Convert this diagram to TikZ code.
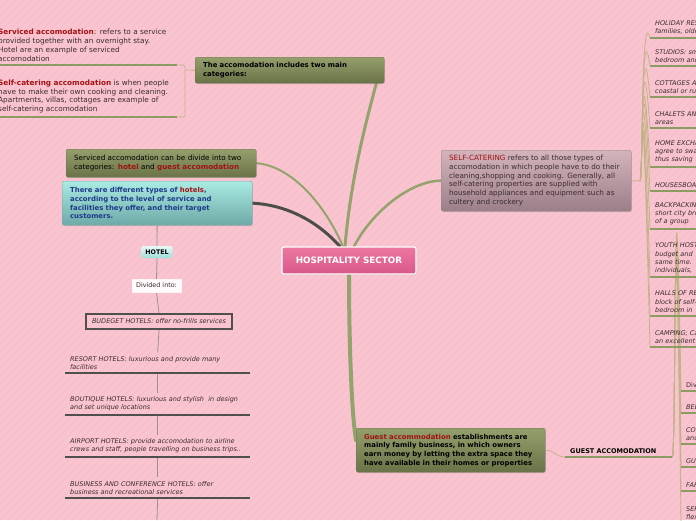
\documentclass[tikz,border=0pt]{standalone}
\usepackage{fontspec}
\setmainfont{DejaVu Sans}
\usetikzlibrary{shadows}
\definecolor{bgpink}{HTML}{F9C4D0}
\definecolor{stripe}{HTML}{F3BCC9}
\definecolor{olivetop}{HTML}{949F6D}
\definecolor{olivebot}{HTML}{6A7347}
\definecolor{oliveline}{HTML}{8C9B61}
\definecolor{branchc}{HTML}{94A36C}
\definecolor{darkbranch}{HTML}{4E4E48}
\definecolor{thinc}{HTML}{C4B388}
\definecolor{redtext}{HTML}{A31212}
\definecolor{bluetext}{HTML}{1E3A8A}
\definecolor{tealtop}{HTML}{AAEBE3}
\definecolor{tealbot}{HTML}{6EA9A7}
\definecolor{mauvetop}{HTML}{D4B4BC}
\definecolor{mauvebot}{HTML}{9B7F88}
\definecolor{centertop}{HTML}{EC77A0}
\definecolor{centerbot}{HTML}{D9588A}
\definecolor{itemtext}{HTML}{3B2B2E}
\definecolor{grayline}{HTML}{4F4F4F}
\definecolor{vlinec}{HTML}{A08E92}
\pgfdeclarelayer{bg}\pgfdeclarelayer{edges}\pgfsetlayers{bg,edges,main}
\newcommand{\boxfont}{\fontsize{7.2}{8.7}\selectfont}
\newcommand{\boldboxfont}{\fontsize{6.9}{8.7}\selectfont\bfseries}
\newcommand{\ltfont}{\fontsize{7.3}{8.8}\selectfont}
\newcommand{\itemfont}{\fontsize{6.5}{8.2}\selectfont}
\newcommand{\rd}[1]{\textcolor{redtext}{#1}}
\tikzset{
  shadowed/.style={drop shadow={opacity=0.3,shadow xshift=0.8pt,shadow yshift=-1pt}},
  box/.style={rounded corners=2pt, inner xsep=8pt, align=left, anchor=north west, font=\boxfont, shadowed},
  olivebox/.style={box, top color=olivetop, bottom color=olivebot, draw=olivebot, line width=0.3pt},
  tealbox/.style={box, top color=tealtop, bottom color=tealbot, draw=tealbot, line width=0.3pt, text=bluetext, font=\boldboxfont},
  mauvebox/.style={box, top color=mauvetop, bottom color=mauvebot, draw=mauvebot, line width=0.3pt, text=itemtext},
  centerbox/.style={rounded corners=2pt, top color=centertop, bottom color=centerbot, draw=white, line width=1.2pt, text=white, font=\fontsize{8.8}{10}\selectfont\bfseries, minimum width=134pt, minimum height=27pt, shadowed},
  uitem/.style={anchor=south west, inner xsep=5pt, inner ysep=3.5pt, align=left, font=\itemfont\itshape, text=itemtext, text width=#1},
  uol/.style={line width=2.8pt, oliveline},
  ugr/.style={line width=2.5pt, grayline},
  thinl/.style={line width=0.8pt, thinc},
  vline/.style={line width=0.8pt, vlinec},
  branch/.style={branchc, line cap=round},
}
\begin{document}
\begin{tikzpicture}[x=1pt,y=-1pt]
\useasboundingbox (0,0) rectangle (696,520);
\clip (0,0) rectangle (696,520);
\begin{pgfonlayer}{bg}
\fill[bgpink] (0,0) rectangle (696,520);
\foreach \i in {-520,-512,...,696} \draw[stripe, line width=0.4pt] (\i,520) -- (\i+520,0);
\end{pgfonlayer}

% central
\node[centerbox] (center) at (349,260.5) {HOSPITALITY SECTOR};

% top box and left texts
\node[olivebox, font=\boldboxfont, text width=173pt, minimum height=26pt] (topbox) at (195,57) {The accomodation includes two main\\categories:};
\node[anchor=south west, inner xsep=0pt, inner ysep=3.5pt, align=left, font=\ltfont, text=itemtext, text width=179pt] (lt1) at (-2,65)
  {\rd{\textbf{Serviced accomodation}}: refers to a service\\provided together with an overnight stay.\\Hotel are an example of serviced\\accomodation};
\node[anchor=south west, inner xsep=0pt, inner ysep=3.5pt, align=left, font=\ltfont, text=itemtext, text width=179pt] (lt2) at (-2,117)
  {\rd{\textbf{Self-catering accomodation}} is when people\\have to make their own cooking and cleaning.\\Apartments, villas, cottages are example of\\self-catering accomodation};
\draw[uol] (lt1.south west) -- (lt1.south east);
\draw[uol] (lt2.south west) -- (lt2.south east);
\coordinate (ltj) at (185,70);

% left boxes
\node[olivebox, text width=174pt, minimum height=28pt] (svc) at (66,149) {Serviced accomodation can be divide into two\\categories: \rd{\textbf{hotel}} and \rd{\textbf{guest accomodation}}};
\node[tealbox, text width=174pt, minimum height=44pt] (teal) at (62,181) {There are different types of \rd{hotels},\\according to the level of service and\\facilities they offer, and their target\\customers.};

% hotel chain
\node[rounded corners=2pt, top color=white!70!tealtop, bottom color=tealtop!80!tealbot, font=\fontsize{6.3}{7}\selectfont\bfseries, minimum width=31pt, minimum height=12pt, inner sep=1pt] (hotel) at (157,252) {HOTEL};
\node[fill=white!92!bgpink, draw=white!80!bgpink, font=\fontsize{6.4}{7}\selectfont, text=itemtext, minimum width=49pt, minimum height=13pt, inner sep=1pt] (divided) at (156.5,285.5) {Divided into:};
\node[draw=grayline, line width=2pt, fill=bgpink, font=\itemfont\itshape, text=itemtext, minimum width=146pt, minimum height=15pt, inner sep=1pt] (budget) at (159,321.5) {BUDEGET HOTELS: offer no-frills services};
\node[uitem=175pt] (h1) at (65,373) {RESORT HOTELS: luxurious and provide many\\facilities};
\node[uitem=175pt] (h2) at (65,415) {BOUTIQUE HOTELS: luxurious and stylish\ \ in design\\and set unique locations};
\node[uitem=175pt] (h3) at (65,457) {AIRPORT HOTELS: provide accomodation to airline\\crews and staff, people travelling on business trips..};
\node[uitem=175pt] (h4) at (65,498) {BUSINESS AND CONFERENCE HOTELS: offer\\business and recreational services};
\foreach \i in {1,...,4} \draw[ugr] (h\i.south west) -- (h\i.south east);
\coordinate (hend) at (157,520);

% self-catering
\node[mauvebox, text width=174pt, minimum height=61pt] (sc) at (441,150) {\rd{SELF-CATERING} refers to all those types of\\accomodation in which people have to do their\\cleaning,shopping and cooking. Generally, all\\self-catering properties are supplied with\\household appliances and equipment such as\\cultery and crockery};
\coordinate (scfan) at (640,181);
\node[uitem=200pt] (r1) at (650,38) {HOLIDAY RESORTS:\\families, older};
\node[uitem=200pt] (r2) at (650,66) {STUDIOS: small\\bedroom and};
\node[uitem=200pt] (r3) at (650,97) {COTTAGES AND\\coastal or rural};
\node[uitem=200pt] (r4) at (650,128) {CHALETS AND\\areas};
\node[uitem=200pt] (r5) at (650,167) {HOME EXCHANGE:\\agree to swap\\thus saving};
\node[uitem=200pt] (r6) at (650,191) {HOUSESBOATS};
\node[uitem=200pt] (r7) at (650,229) {BACKPACKING\\short city breaks\\of a group};
\node[uitem=200pt] (r8) at (650,277) {YOUTH HOSTELS:\\budget and\\same time.\\individuals,};
\node[uitem=200pt] (r9) at (650,316) {HALLS OF RESIDENCE\\block of self-catering\\bedroom in};
\node[uitem=200pt] (r10) at (650,347) {CAMPING; Camping\\an excellent};
\foreach \i in {1,...,10} \draw[uol] (r\i.south west) -- (r\i.south east);

% guest accommodation
\node[olivebox, font=\boldboxfont, text width=173pt, minimum height=44pt] (guest) at (356,428) {\rd{Guest accommodation} establishments are\\mainly family business, in which owners\\earn money by letting the extra space they\\have available in their homes or properties};
\node[uitem=97pt, font=\fontsize{6.5}{8}\selectfont\bfseries, text=black] (gacc) at (565,457) {GUEST ACCOMODATION};
\draw[line width=2.6pt, oliveline] (gacc.south west) -- (gacc.south east);
\node[uitem=200pt, font=\itemfont] (g1) at (681,391) {Divided into:};
\node[uitem=200pt] (g2) at (681,413) {BED AND BREAKFAST};
\node[uitem=200pt] (g3) at (681,444) {COUNTRY HOUSES\\and};
\node[uitem=200pt] (g4) at (681,467) {GUEST HOUSES};
\node[uitem=200pt] (g5) at (681,491) {FARMHOUSES};
\node[uitem=200pt] (g6) at (681,523) {SERVICED APARTMENTS\\flexible};
\foreach \i in {1,...,6} \draw[uol] (g\i.south west) -- (g\i.south east);

\begin{pgfonlayer}{edges}
\draw[branch, line width=3pt] ([xshift=-4pt]center.north) .. controls (351,175) and (368,115) .. ([xshift=-8pt]topbox.south east);
\draw[branch, line width=2pt] ([xshift=-6pt]center.north) .. controls (325,205) and (292,166) .. (svc.east);
\draw[darkbranch, line width=3pt, line cap=round] ([xshift=-9pt]center.north) .. controls (318,222) and (288,205) .. (teal.east);
\draw[branch, line width=2.5pt] ([xshift=5pt]center.north) .. controls (372,212) and (410,181) .. (sc.west);
\draw[branch, line width=4pt] (center.south) .. controls (349,330) and (351,410) .. ([yshift=10pt]guest.west);
\draw[thinl] (topbox.west) -- (ltj);
\draw[thinl, rounded corners=2pt] (ltj) |- (lt1.south east);
\draw[thinl, rounded corners=2pt] (ltj) |- (lt2.south east);
\draw[vline] (teal.south) -- (hotel.north);
\draw[vline] (hotel.south) -- (divided.north);
\draw[vline] (divided.south) -- (budget.north);
\draw[vline] (budget.south) -- (h1.north);
\draw[vline] (h1.south) -- (h2.north);
\draw[vline] (h2.south) -- (h3.north);
\draw[vline] (h3.south) -- (h4.north);
\draw[vline] (h4.south) -- (hend);
\draw[thinl] (sc.east) -- (scfan);
\foreach \i in {1,...,10} \draw[thinl] (scfan) .. controls (643,181) and (641,{0}) .. (r\i.south west);
\draw[thinl] (guest.east) .. controls (555,450) and (555,457) .. (gacc.south west);
\foreach \i in {1,...,6} \draw[thinl] (gacc.south east) .. controls (676,457) and (674,0) .. (g\i.south west);
\end{pgfonlayer}
\end{tikzpicture}
\end{document}
